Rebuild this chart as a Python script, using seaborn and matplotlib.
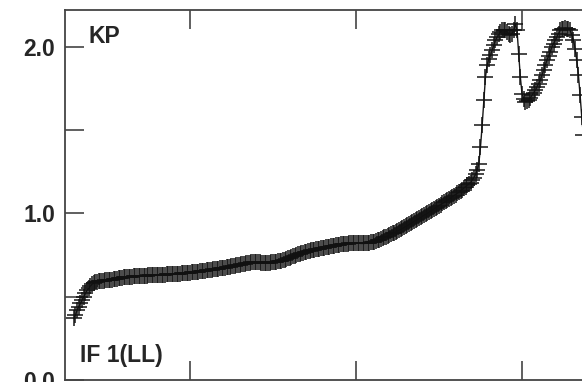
import numpy as np
import matplotlib
matplotlib.use("Agg")
import matplotlib.pyplot as plt
import seaborn as sns

# sampling grid of the trace (step 0.01)
x = np.round(np.arange(0.30, 3.375, 0.01), 2)

# values, segment by segment
y_onset = [0.37, 0.39, 0.42, 0.44, 0.46, 0.48, 0.50, 0.52, 0.54, 0.55,
           0.565, 0.575, 0.582, 0.587, 0.590, 0.593, 0.595, 0.596, 0.597, 0.598,
           0.599, 0.600, 0.601, 0.603, 0.605, 0.607, 0.609, 0.611, 0.613, 0.615]
y_plateau = [0.616, 0.617, 0.618, 0.619, 0.620, 0.621, 0.622, 0.623, 0.624, 0.625,
             0.625, 0.626, 0.626, 0.627, 0.627, 0.628, 0.628, 0.629, 0.629, 0.630,
             0.630, 0.631, 0.631, 0.632, 0.632, 0.633, 0.634, 0.635, 0.635, 0.636,
             0.636, 0.637, 0.637, 0.638, 0.639, 0.640, 0.641, 0.642, 0.643, 0.644,
             0.645, 0.646, 0.647, 0.648, 0.649, 0.650, 0.652, 0.653, 0.655, 0.656,
             0.658, 0.659, 0.661, 0.662, 0.664, 0.665, 0.667, 0.668, 0.670, 0.671,
             0.673, 0.675, 0.676, 0.678, 0.680, 0.682, 0.684, 0.686, 0.688, 0.690,
             0.692, 0.694, 0.696, 0.698, 0.700, 0.702, 0.704, 0.706, 0.707, 0.708,
             0.708, 0.707, 0.706, 0.705, 0.704, 0.704, 0.704, 0.704, 0.705, 0.706,
             0.707, 0.708, 0.710, 0.712, 0.714, 0.717, 0.720, 0.723, 0.727, 0.731,
             0.735, 0.739, 0.743, 0.747, 0.751, 0.755, 0.758, 0.762, 0.765, 0.768,
             0.771, 0.774, 0.776, 0.778, 0.780, 0.782, 0.784, 0.786, 0.788, 0.790,
             0.792, 0.794, 0.796, 0.798, 0.800, 0.802, 0.804, 0.806, 0.808, 0.810,
             0.812, 0.814, 0.815, 0.817, 0.818, 0.819, 0.820, 0.821, 0.822, 0.822]
y_shoulder = [0.822, 0.822, 0.821, 0.820, 0.820, 0.820, 0.821, 0.822, 0.824, 0.826,
              0.828, 0.831, 0.834, 0.838, 0.842, 0.846, 0.851, 0.856, 0.860, 0.865,
              0.870, 0.875, 0.880, 0.885, 0.890, 0.895, 0.900, 0.906, 0.911, 0.917,
              0.923, 0.929, 0.935, 0.941, 0.947, 0.953, 0.959, 0.965, 0.971, 0.977,
              0.984, 0.990, 0.996, 1.002, 1.008, 1.015, 1.021, 1.027, 1.034, 1.040,
              1.047, 1.053, 1.060, 1.066, 1.073, 1.080, 1.086, 1.093, 1.100, 1.107,
              1.114, 1.121, 1.128, 1.136, 1.144, 1.152, 1.161, 1.170, 1.178, 1.186]
y_peaks = [1.20, 1.215, 1.235, 1.26, 1.30, 1.40, 1.53, 1.68, 1.82, 1.89,
           1.93, 1.95, 1.98, 2.01, 2.04, 2.06, 2.075, 2.09, 2.10, 2.10,
           2.10, 2.09, 2.08, 2.07, 2.08, 2.10, 2.14, 2.10, 1.96, 1.82,
           1.72, 1.69, 1.67, 1.675, 1.68, 1.695, 1.71, 1.725, 1.74, 1.76,
           1.78, 1.80, 1.83, 1.86, 1.89, 1.92, 1.945, 1.97, 2.00, 2.02,
           2.04, 2.06, 2.08, 2.10, 2.105, 2.11, 2.115, 2.11, 2.11, 2.10,
           2.07, 2.04, 1.99, 1.92, 1.83, 1.71, 1.58, 1.47]
y = np.array(y_onset + y_plateau + y_shoulder + y_peaks)

y_ticks = [0.0, 1.0, 2.0]
y_ticklabels = ["0.0", "1.0", "2.0"]
y_minor = [0.5, 1.5]
x_ticks = [1, 2, 3]

sns.set_style("ticks")
plt.rcParams["font.family"] = ["Liberation Sans", "DejaVu Sans"]

W, H = 582, 382
fig = plt.figure(figsize=(W / 100, H / 100), dpi=100)
ax = fig.add_axes([64.5 / W, 2 / H, (621.6 - 64.5) / W, 370 / H])

sns.lineplot(x=x, y=y, ax=ax, color="black", lw=1, marker="+",
             markersize=11, markeredgewidth=1.2, markeredgecolor="#111111",
             alpha=0.9, sort=False, estimator=None)

ax.set_xlim(0.244, 3.6)
ax.set_ylim(0, 2.222)
ax.set_yticks(y_ticks)
ax.set_yticklabels(y_ticklabels, fontweight="bold", fontsize=16.5)
ax.set_yticks(y_minor, minor=True)
ax.set_xticks(x_ticks)
ax.set_xticklabels([])
ax.tick_params(axis="both", which="both", direction="in", length=14,
               width=1.2, color="#444444", pad=6.5)
ax.tick_params(axis="x", top=True)
ax.set_xlabel("")
ax.set_ylabel("")
for s in ax.spines.values():
    s.set_visible(True)
    s.set_linewidth(1.3)
    s.set_color("#444444")

fig.text(88 / W, 1 - 43 / H, "KP", fontsize=16.5, fontweight="bold", va="baseline")
fig.text(80 / W, 1 - 362 / H, "IF 1(LL)", fontsize=16.5, fontweight="bold", va="baseline")

fig.savefig("out.png", dpi=100)
